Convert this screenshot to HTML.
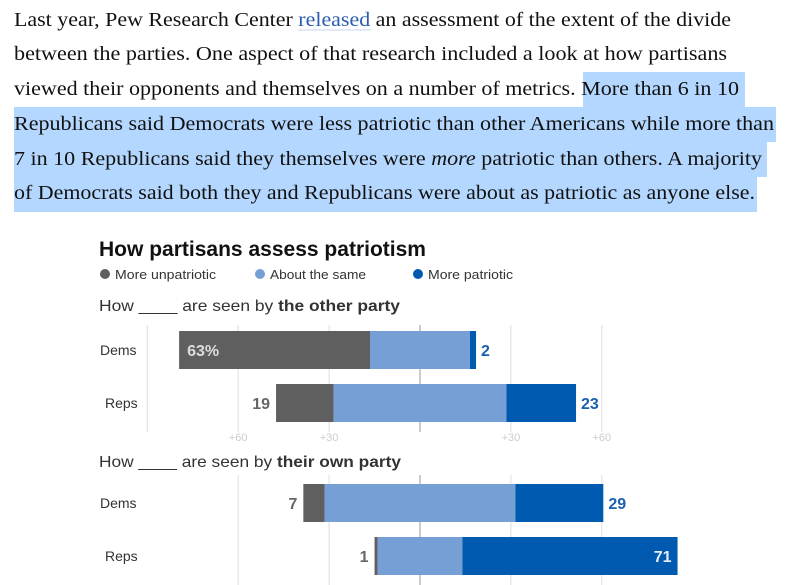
<!DOCTYPE html>
<html><head><meta charset="utf-8"><style>
html,body{margin:0;padding:0;background:#fff;width:789px;height:585px;overflow:hidden}
svg{display:block}
</style></head><body>
<svg width="789" height="585" xmlns="http://www.w3.org/2000/svg">
<g font-family="Liberation Serif, serif" font-size="20" fill="#111">
<rect x="583" y="72" width="162" height="35" fill="#b3d7fe"/>
<rect x="14" y="107" width="762" height="35" fill="#b3d7fe"/>
<rect x="14" y="142" width="753" height="35" fill="#b3d7fe"/>
<rect x="14" y="177" width="743" height="35" fill="#b3d7fe"/>
<text x="14" y="26" textLength="717" lengthAdjust="spacingAndGlyphs">Last year, Pew Research Center <tspan fill="#2a5db0">released</tspan> an assessment of the extent of the divide</text>
<line x1="298" y1="30" x2="371" y2="30" stroke="#c8d4e8" stroke-width="1"/>
<text x="14" y="60" textLength="713" lengthAdjust="spacingAndGlyphs">between the parties. One aspect of that research included a look at how partisans</text>
<text x="14" y="95" textLength="725" lengthAdjust="spacingAndGlyphs">viewed their opponents and themselves on a number of metrics. More than 6 in 10</text>
<text x="14" y="130" textLength="760" lengthAdjust="spacingAndGlyphs">Republicans said Democrats were less patriotic than other Americans while more than</text>
<text x="14" y="165" textLength="748" lengthAdjust="spacingAndGlyphs">7 in 10 Republicans said they themselves were <tspan font-style="italic">more</tspan> patriotic than others. A majority</text>
<text x="14" y="199" textLength="741" lengthAdjust="spacingAndGlyphs">of Democrats said both they and Republicans were about as patriotic as anyone else.</text>
</g>
<g font-family="Liberation Sans, sans-serif">
<text x="99" y="256" font-size="21" font-weight="bold" fill="#111" textLength="327" lengthAdjust="spacingAndGlyphs">How partisans assess patriotism</text>
<g font-size="13" fill="#333">
<circle cx="105" cy="274" r="5" fill="#5f5f5f"/><text x="115" y="279" textLength="101" lengthAdjust="spacingAndGlyphs">More unpatriotic</text>
<circle cx="260" cy="274" r="5" fill="#769fd6"/><text x="270" y="279" textLength="96" lengthAdjust="spacingAndGlyphs">About the same</text>
<circle cx="418" cy="274" r="5" fill="#005bb0"/><text x="428" y="279" textLength="85" lengthAdjust="spacingAndGlyphs">More patriotic</text>
</g>
<text x="99" y="311" font-size="16" fill="#333" textLength="301" lengthAdjust="spacingAndGlyphs">How ____ are seen by <tspan font-weight="bold">the other party</tspan></text>
<text x="99" y="467" font-size="16" fill="#333" textLength="302" lengthAdjust="spacingAndGlyphs">How ____ are seen by <tspan font-weight="bold">their own party</tspan></text>
<g id="chart"></g>
</g>
</svg>
<script>
const groups = ["Dems","Reps"];
const otherUnpatriotic = [63,19];
const otherSame = [33,57];
const otherPatriotic = [2,23];
const ownUnpatriotic = [7,1];
const ownSame = [63,28];
const ownPatriotic = [29,71];
const gridTicks = [-90,-60,-30,0,30,60];
const tickLabels = ["+60","+30","+30","+60"];
const tickValues = [-60,-30,30,60];

const NS="http://www.w3.org/2000/svg";
const center=420, scale=3.03;
const xs=v=>center+v*scale;
const g=document.getElementById('chart');
function mk(tag,attrs,parent){const e=document.createElementNS(NS,tag);for(const k in attrs)e.setAttribute(k,attrs[k]);(parent||g).appendChild(e);return e;}

function panel(key,unp,same,pat,rowY,gy1,gy2,showLeftmost,showTicks){
  gridTicks.forEach(t=>{
    if(t===-90&&!showLeftmost)return;
    const l=mk('line',{x1:xs(t),x2:xs(t),y1:gy1,y2:gy2,stroke:t===0?'#999':'#ddd','stroke-width':1});
    
    
  });
  if(showTicks){
    tickValues.forEach((t,i)=>{
      const tx=mk('text',{x:xs(t),y:441,'font-size':11,fill:'#ccc','text-anchor':'middle'});
      tx.textContent=tickLabels[i];
      
      
    });
  }
  groups.forEach((grp,i)=>{
    const y=rowY[i], h=38;
    const lab=mk('text',{x:i===0?100:105,y:y+24,'font-size':14,fill:'#333'});
    lab.textContent=grp;
    
    
    const s0=xs(-same[i]/2), s1=xs(same[i]/2), u0=s0-unp[i]*scale, p1=s1+pat[i]*scale;
    const r1=mk('rect',{x:u0,y:y,width:s0-u0,height:h,fill:'#5f5f5f'});
    
    
    const r2=mk('rect',{x:s0,y:y,width:s1-s0,height:h,fill:'#769fd6'});
    
    
    const r3=mk('rect',{x:s1,y:y,width:p1-s1,height:h,fill:'#005bb0'});
    
    
    let ut;
    if(unp[i]>=30){ut=mk('text',{x:u0+8,y:y+25,'font-size':16,'font-weight':'bold',fill:'#ddd'});ut.textContent=(key==='other'&&i===0)?unp[i]+'%':unp[i];}
    else{ut=mk('text',{x:u0-6,y:y+25,'font-size':16,'font-weight':'bold',fill:'#666','text-anchor':'end'});ut.textContent=unp[i];}
    
    
    let pt;
    if(pat[i]>=50){pt=mk('text',{x:p1-6,y:y+25,'font-size':16,'font-weight':'bold',fill:'#e8eef8','text-anchor':'end'});}
    else{pt=mk('text',{x:p1+5,y:y+25,'font-size':16,'font-weight':'bold',fill:'#1a5fb0'});}
    pt.textContent=pat[i];
    
    
  });
}
panel('other',otherUnpatriotic,otherSame,otherPatriotic,[331,384],325,432,true,true);
panel('own',ownUnpatriotic,ownSame,ownPatriotic,[484,537],475,585,false,false);
</script>
</body></html>
